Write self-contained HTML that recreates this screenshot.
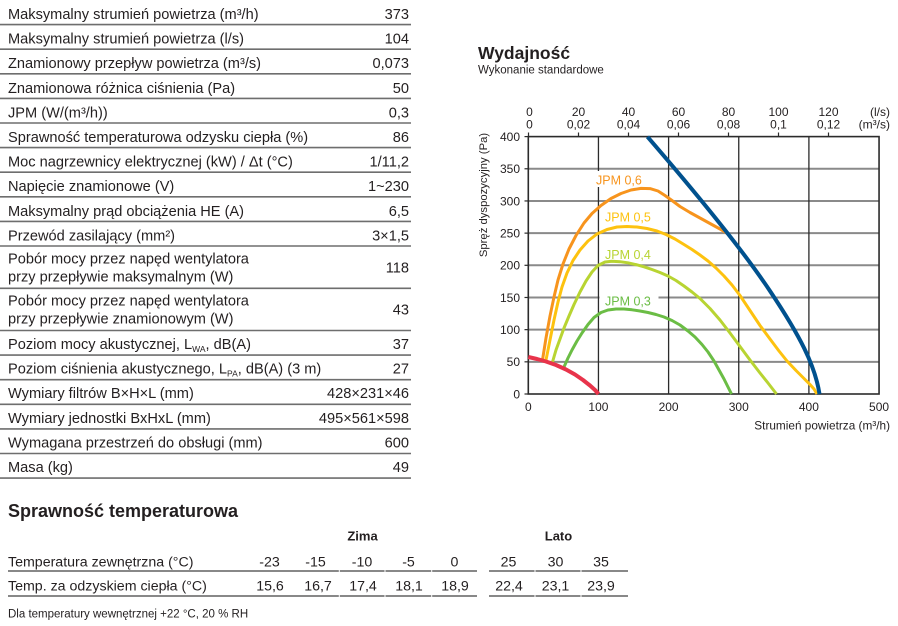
<!DOCTYPE html>
<html>
<head>
<meta charset="utf-8">
<style>
html,body{margin:0;padding:0;background:#fff;}
svg{display:block;}
text{font-family:"Liberation Sans",sans-serif;fill:#231f20;}
</style>
</head>
<body>
<svg width="898" height="626" viewBox="0 0 898 626" xmlns="http://www.w3.org/2000/svg">
<rect width="898" height="626" fill="#fff"/>

<!-- ===== Left spec table ===== -->
<g stroke="#6e6e6e" stroke-width="1.6">
<line x1="0" y1="24.6" x2="411" y2="24.6"/>
<line x1="0" y1="49.2" x2="411" y2="49.2"/>
<line x1="0" y1="73.8" x2="411" y2="73.8"/>
<line x1="0" y1="98.4" x2="411" y2="98.4"/>
<line x1="0" y1="123" x2="411" y2="123"/>
<line x1="0" y1="147.6" x2="411" y2="147.6"/>
<line x1="0" y1="172.2" x2="411" y2="172.2"/>
<line x1="0" y1="196.8" x2="411" y2="196.8"/>
<line x1="0" y1="221.4" x2="411" y2="221.4"/>
<line x1="0" y1="246" x2="411" y2="246"/>
<line x1="0" y1="288.3" x2="411" y2="288.3"/>
<line x1="0" y1="330.5" x2="411" y2="330.5"/>
<line x1="0" y1="355.1" x2="411" y2="355.1"/>
<line x1="0" y1="379.7" x2="411" y2="379.7"/>
<line x1="0" y1="404.3" x2="411" y2="404.3"/>
<line x1="0" y1="428.9" x2="411" y2="428.9"/>
<line x1="0" y1="453.5" x2="411" y2="453.5"/>
<line x1="0" y1="478.1" x2="411" y2="478.1"/>
</g>

<g font-size="14.6">
<text x="8" y="19">Maksymalny strumień powietrza (m³/h)</text>
<text x="8" y="43.6">Maksymalny strumień powietrza (l/s)</text>
<text x="8" y="68.2">Znamionowy przepływ powietrza (m³/s)</text>
<text x="8" y="92.8">Znamionowa różnica ciśnienia (Pa)</text>
<text x="8" y="117.4">JPM (W/(m³/h))</text>
<text x="8" y="142">Sprawność temperaturowa odzysku ciepła (%)</text>
<text x="8" y="166.6">Moc nagrzewnicy elektrycznej (kW) / Δt (°C)</text>
<text x="8" y="191.2">Napięcie znamionowe (V)</text>
<text x="8" y="215.8">Maksymalny prąd obciążenia HE (A)</text>
<text x="8" y="240.4">Przewód zasilający (mm²)</text>
<text x="8" y="263.5">Pobór mocy przez napęd wentylatora</text>
<text x="8" y="281.5">przy przepływie maksymalnym (W)</text>
<text x="8" y="305.5">Pobór mocy przez napęd wentylatora</text>
<text x="8" y="323.5">przy przepływie znamionowym (W)</text>
<text x="8" y="349">Poziom mocy akustycznej, L<tspan font-size="8.5" dy="3">WA</tspan><tspan dy="-3">, dB(A)</tspan></text>
<text x="8" y="373.6">Poziom ciśnienia akustycznego, L<tspan font-size="8.5" dy="3">PA</tspan><tspan dy="-3">, dB(A) (3 m)</tspan></text>
<text x="8" y="398.2">Wymiary filtrów B×H×L (mm)</text>
<text x="8" y="422.8">Wymiary jednostki BxHxL (mm)</text>
<text x="8" y="447.4">Wymagana przestrzeń do obsługi (mm)</text>
<text x="8" y="472">Masa (kg)</text>
</g>
<g font-size="14.6" text-anchor="end">
<text x="409" y="19">373</text>
<text x="409" y="43.6">104</text>
<text x="409" y="68.2">0,073</text>
<text x="409" y="92.8">50</text>
<text x="409" y="117.4">0,3</text>
<text x="409" y="142">86</text>
<text x="409" y="166.6">1/11,2</text>
<text x="409" y="191.2">1~230</text>
<text x="409" y="215.8">6,5</text>
<text x="409" y="240.4">3×1,5</text>
<text x="409" y="272.5">118</text>
<text x="409" y="314.5">43</text>
<text x="409" y="349">37</text>
<text x="409" y="373.6">27</text>
<text x="409" y="398.2">428×231×46</text>
<text x="409" y="422.8">495×561×598</text>
<text x="409" y="447.4">600</text>
<text x="409" y="472">49</text>
</g>

<!-- ===== Chart ===== -->
<text x="478" y="59" font-size="17.5" font-weight="bold">Wydajność</text>
<text x="478" y="73.5" font-size="11.5">Wykonanie standardowe</text>

<!-- horizontal gray grid -->
<g stroke="#8a8a8a" stroke-width="2">
<line x1="528.3" y1="361.83" x2="879.05" y2="361.83"/>
<line x1="528.3" y1="329.65" x2="879.05" y2="329.65"/>
<line x1="528.3" y1="297.48" x2="879.05" y2="297.48"/>
<line x1="528.3" y1="265.3" x2="879.05" y2="265.3"/>
<line x1="528.3" y1="233.13" x2="879.05" y2="233.13"/>
<line x1="528.3" y1="200.95" x2="879.05" y2="200.95"/>
<line x1="528.3" y1="168.78" x2="879.05" y2="168.78"/>
</g>
<!-- vertical dark grid -->
<g stroke="#2b2b2b" stroke-width="1.3">
<line x1="598.45" y1="136.6" x2="598.45" y2="394"/>
<line x1="668.6" y1="136.6" x2="668.6" y2="394"/>
<line x1="738.75" y1="136.6" x2="738.75" y2="394"/>
<line x1="808.9" y1="136.6" x2="808.9" y2="394"/>
</g>
<!-- frame -->
<g stroke="#2b2b2b" stroke-width="1.6" fill="none">
<rect x="528.3" y="136.6" width="350.75" height="257.4"/>
</g>
<!-- ticks -->
<g stroke="#2b2b2b" stroke-width="1.2">
<line x1="524.5" y1="136.6" x2="528.3" y2="136.6"/>
<line x1="524.5" y1="168.78" x2="528.3" y2="168.78"/>
<line x1="524.5" y1="200.95" x2="528.3" y2="200.95"/>
<line x1="524.5" y1="233.13" x2="528.3" y2="233.13"/>
<line x1="524.5" y1="265.3" x2="528.3" y2="265.3"/>
<line x1="524.5" y1="297.48" x2="528.3" y2="297.48"/>
<line x1="524.5" y1="329.65" x2="528.3" y2="329.65"/>
<line x1="524.5" y1="361.83" x2="528.3" y2="361.83"/>
<line x1="524.5" y1="394" x2="528.3" y2="394"/>
<line x1="528.5" y1="132.5" x2="528.5" y2="136.6"/>
<line x1="578.5" y1="132.5" x2="578.5" y2="136.6"/>
<line x1="628.5" y1="132.5" x2="628.5" y2="136.6"/>
<line x1="678.5" y1="132.5" x2="678.5" y2="136.6"/>
<line x1="728.5" y1="132.5" x2="728.5" y2="136.6"/>
<line x1="778.5" y1="132.5" x2="778.5" y2="136.6"/>
<line x1="828.5" y1="132.5" x2="828.5" y2="136.6"/>
</g>

<!-- y labels -->
<g font-size="12" text-anchor="end">
<text x="520" y="140.9">400</text>
<text x="520" y="173.1">350</text>
<text x="520" y="205.3">300</text>
<text x="520" y="237.4">250</text>
<text x="520" y="269.6">200</text>
<text x="520" y="301.8">150</text>
<text x="520" y="334">100</text>
<text x="520" y="366.1">50</text>
<text x="520" y="398.3">0</text>
</g>
<!-- x labels -->
<g font-size="12" text-anchor="middle">
<text x="528.3" y="411">0</text>
<text x="598.45" y="411">100</text>
<text x="668.6" y="411">200</text>
<text x="738.75" y="411">300</text>
<text x="808.9" y="411">400</text>
<text x="879.05" y="411">500</text>
</g>
<text x="890" y="429.5" font-size="11.8" text-anchor="end">Strumień powietrza (m³/h)</text>
<text transform="translate(487,195) rotate(-90)" font-size="11.3" text-anchor="middle">Spręż dyspozycyjny (Pa)</text>

<!-- top labels -->
<g font-size="12" text-anchor="middle">
<text x="529.5" y="116">0</text>
<text x="578.5" y="116">20</text>
<text x="628.5" y="116">40</text>
<text x="678.5" y="116">60</text>
<text x="728.5" y="116">80</text>
<text x="778.5" y="116">100</text>
<text x="828.5" y="116">120</text>
<text x="529.5" y="128.5">0</text>
<text x="578.5" y="128.5">0,02</text>
<text x="628.5" y="128.5">0,04</text>
<text x="678.5" y="128.5">0,06</text>
<text x="728.5" y="128.5">0,08</text>
<text x="778.5" y="128.5">0,1</text>
<text x="828.5" y="128.5">0,12</text>
</g>
<g font-size="12" text-anchor="end">
<text x="890" y="116">(l/s)</text>
<text x="890" y="128.5">(m³/s)</text>
</g>

<!-- label backgrounds -->
<rect x="595" y="171" width="48" height="16" fill="#fff"/>
<rect x="599.5" y="291" width="59" height="15.5" fill="#fff"/>

<!-- curves -->
<g fill="none" stroke-linejoin="round" stroke-linecap="butt">
<polyline stroke="#f7941d" stroke-width="3" points="542.5,360 546,338 550,316 554,297 558,280 563,264 569,249 576,235.5 584,223 592,213.5 601,205.5 611,198.5 621,193.5 631,190 641,188.4 650,188.6 658,191 665,195.5 672,200.5 680,206.5 690,212.5 700,218 710,223.5 720,229 728,234"/>
<polyline stroke="#fdc20f" stroke-width="3" points="546,360 550,340 554,320 558,302 562,287 567,273 573,260.5 580,250 588,241 597,234 607,229.5 617,227 627,226.5 637,227 647,228.5 657,231 666,234.5 675,239 684,244.5 692,249.5 700,255 708,261 716,268 724,276 732,285 740,295.5 750,310.5 760,325.5 770,339 779,351 787,361 796,370.5 804,378.5 810,384.5 814,389 817,394"/>
<polyline stroke="#b8d432" stroke-width="3" points="552.5,362 556,350 560,339 564,328 569,316 574,304.5 580,292 586,281 592,272 598,265.5 605,262 612,261.3 620,261.7 628,262.8 636,264.6 644,266.8 652,269.5 660,272.5 668,276 676,280.5 684,286 692,292 700,298.5 710,308.5 720,320 730,333 740,346.5 750,360 760,373 768,383 776.5,394"/>
<polyline stroke="#6bbd45" stroke-width="3" points="564,367 568,358 572,350 577,341 582,333 588,324.5 594,317.5 601,312.5 608,310 616,309 624,309 632,309.8 640,311 648,312.5 656,314.5 664,317 672,320.5 680,325 688,331 695,337 702,344.5 708,352 714,361 719,370 724,379 728,387 731.5,394"/>
<path stroke="#00518e" stroke-width="4" d="M647.5,136.8 C690,186 740,246 770,291 C800,336 815,365 819.5,394"/>
<polyline stroke="#e8344b" stroke-width="4" points="528.3,357 537,359 546,361.5 556,365 566,369.5 575,374.5 583,380 590,385.5 595,390 598.5,394"/>
</g>

<!-- JPM labels -->
<g font-size="12.5">
<text x="596" y="184.5" style="fill:#f7941d">JPM 0,6</text>
<text x="605" y="221.5" style="fill:#fdc20f">JPM 0,5</text>
<text x="605" y="258.8" style="fill:#b8d432">JPM 0,4</text>
<text x="605" y="305.5" style="fill:#6bbd45">JPM 0,3</text>
</g>

<!-- ===== Bottom section ===== -->
<text x="8" y="517" font-size="18" font-weight="bold">Sprawność temperaturowa</text>
<g font-size="13" font-weight="bold" text-anchor="middle">
<text x="362.5" y="540.7">Zima</text>
<text x="558.5" y="540.7">Lato</text>
</g>
<g font-size="14.2">
<text x="8" y="566.7">Temperatura zewnętrzna (°C)</text>
<text x="8" y="590.7">Temp. za odzyskiem ciepła (°C)</text>
</g>
<g font-size="14.2" text-anchor="middle">
<text x="269.5" y="566.7">-23</text>
<text x="315.5" y="566.7">-15</text>
<text x="362" y="566.7">-10</text>
<text x="408.5" y="566.7">-5</text>
<text x="454.5" y="566.7">0</text>
<text x="508.5" y="566.7">25</text>
<text x="555.5" y="566.7">30</text>
<text x="601" y="566.7">35</text>
<text x="270" y="590.7">15,6</text>
<text x="318" y="590.7">16,7</text>
<text x="363" y="590.7">17,4</text>
<text x="409" y="590.7">18,1</text>
<text x="455" y="590.7">18,9</text>
<text x="509" y="590.7">22,4</text>
<text x="555.5" y="590.7">23,1</text>
<text x="601" y="590.7">23,9</text>
</g>
<g stroke="#777" stroke-width="1.8">
<line x1="8" y1="571" x2="338.8" y2="571"/>
<line x1="339.8" y1="571" x2="384.5" y2="571"/>
<line x1="385.5" y1="571" x2="431.2" y2="571"/>
<line x1="432.2" y1="571" x2="477" y2="571"/>
<line x1="489" y1="571" x2="534.5" y2="571"/>
<line x1="535.5" y1="571" x2="580.5" y2="571"/>
<line x1="581.5" y1="571" x2="628" y2="571"/>
<line x1="8" y1="596" x2="338.8" y2="596"/>
<line x1="339.8" y1="596" x2="384.5" y2="596"/>
<line x1="385.5" y1="596" x2="431.2" y2="596"/>
<line x1="432.2" y1="596" x2="477" y2="596"/>
<line x1="489" y1="596" x2="534.5" y2="596"/>
<line x1="535.5" y1="596" x2="580.5" y2="596"/>
<line x1="581.5" y1="596" x2="628" y2="596"/>
</g>
<text x="8" y="617.7" font-size="11.5">Dla temperatury wewnętrznej +22 °C, 20 % RH</text>
</svg>
</body>
</html>
